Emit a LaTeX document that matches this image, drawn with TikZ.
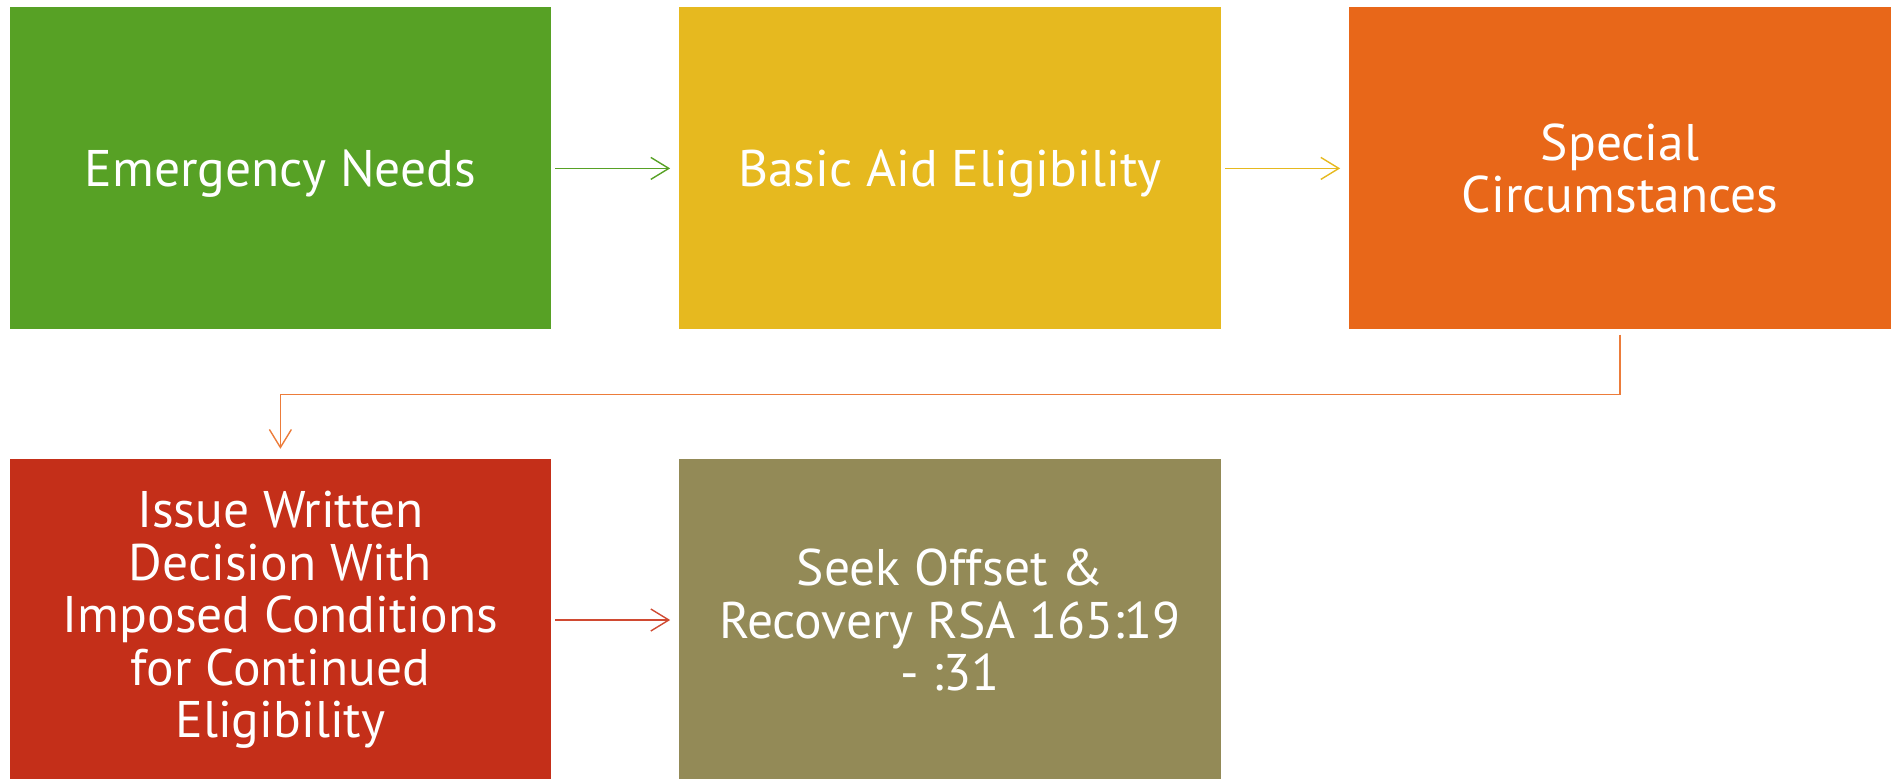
\documentclass[tikz,border=0pt]{standalone}
\usepackage{fontspec}
\setmainfont{PT Sans}
\usetikzlibrary{arrows.meta,calc}
\definecolor{cgreen}{HTML}{57A125}
\definecolor{cyellow}{HTML}{E6B91F}
\definecolor{corange}{HTML}{E86719}
\definecolor{cred}{HTML}{C42F19}
\definecolor{colive}{HTML}{938A57}
\definecolor{lorange}{HTML}{EC7C3A}
\definecolor{lred}{HTML}{D04A32}
\begin{document}
\begin{tikzpicture}[x=1pt,y=1pt,
  box/.style={rectangle,minimum width=541.3pt,minimum height=322pt,inner sep=0pt,
    text=white,align=center,font=\fontsize{51.5}{52.5}\selectfont},
  conn/.style={line width=1.4pt,-{Straight Barb[length=18pt,width=22pt,line width=1.4pt]}}]
\useasboundingbox (0,0) rectangle (1899,-779);
\node[box,fill=cgreen,text depth=0pt] (b1) at (280.4,-168.4) {Emergency Needs};
\node[box,fill=cyellow,text depth=0pt] (b2) at (950,-168.4) {Basic Aid Eligibility};
\node[box,fill=corange] (b3) at (1620,-168.4) {Special\\Circumstances};
\node[box,fill=cred] (b4) at (280.4,-620) {Issue Written\\Decision With\\Imposed Conditions\\for Continued\\Eligibility};
\node[box,fill=colive] (b5) at (950,-620) {Seek Offset \&\\Recovery RSA 165:19\\- :31};
\coordinate (mid) at ($(b3.south)!0.5!(b4.north)$);
\draw[conn,cgreen,shorten <=4pt,shorten >=9pt] (b1.east) -- (b2.west);
\draw[conn,cyellow,shorten <=4pt,shorten >=9pt] (b2.east) -- (b3.west);
\draw[conn,lorange,shorten <=5pt,shorten >=10pt] (b3.south) |- (mid) -| (b4.north);
\draw[conn,lred,shorten <=4pt,shorten >=9pt] (b4.east) -- (b5.west);
\end{tikzpicture}
\end{document}
